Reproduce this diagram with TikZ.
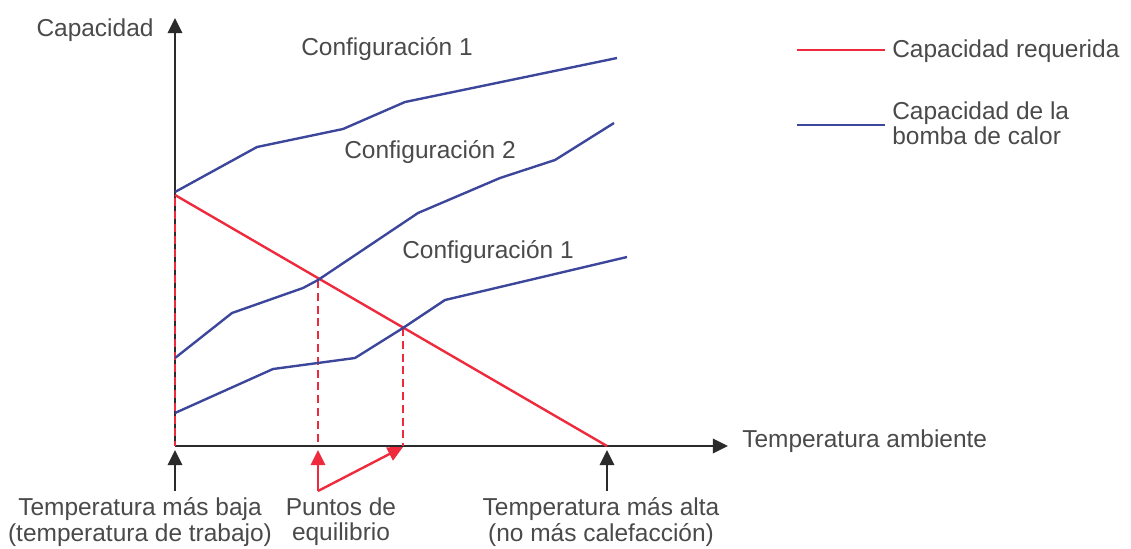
\documentclass[tikz,border=0pt]{standalone}
\usepackage{fontspec}
\setmainfont{Liberation Sans}
\usetikzlibrary{arrows.meta,calc}
\definecolor{reqred}{HTML}{EE2A3C}
\definecolor{hpblue}{HTML}{3C479B}
\definecolor{axisgray}{HTML}{2B2B2B}
\definecolor{txtgray}{HTML}{4A4A4A}

\begin{document}
\begin{tikzpicture}[x=0.025cm,y=-0.025cm,
  lbl/.style={text=txtgray,font=\fontsize{17.4}{18}\selectfont,inner sep=0pt},
  ax/.style={draw=axisgray,line width=1.7pt,-{Triangle[length=0.38cm,width=0.36cm]}},
  req/.style={draw=reqred,line width=1.7pt},
  hp/.style={draw=hpblue,line width=1.7pt,line join=round},
  drop/.style={draw=reqred,line width=2.1pt,dash pattern=on 0.2cm off 0.12cm},
  pointer/.style={line width=1.7pt,-{Triangle[length=0.38cm,width=0.36cm]}}]
\useasboundingbox (0,0) rectangle (1131,548);
% axes
\coordinate (O) at (175,446);
\coordinate (Ytip) at (175,18);
\coordinate (Xtip) at (728,446);
\draw[ax] (O) -- (Ytip);
\draw[ax] (O) -- (Xtip);
% required capacity and balance points
\coordinate (R0) at (175,195);
\coordinate (R1) at (607,446);
\coordinate (P1) at (318,280);
\coordinate (P2) at (403,328);
\coordinate (B0) at (175,446);
\coordinate (B1) at (318,446);
\coordinate (B2) at (403,446);
\draw[drop] (175,198) -- (B0);
\draw[drop] (P1) -- (B1);
\draw[drop] (P2) -- (B2);
\draw[req] (R0) -- (R1);
% heat pump capacity
\draw[hp] (175,192) -- (257,147) -- (343,129) -- (405,102) -- (617,58);
\draw[hp] (175,358) -- (232,313) -- (303,288) -- (P1) -- (418,213) -- (500,178) -- (555,160) -- (614,123);
\draw[hp] (175,413) -- (273,369) -- (355,358) -- (P2) -- (445,300) -- (627,257);
% labels
\node[lbl] (ylab) at (95,30) {Capacidad};
\node[lbl,anchor=west] (xlab) at (742,441) {Temperatura ambiente};
\node[lbl] (c1a) at (387,49) {Configuración 1};
\node[lbl] (c2) at (430,152) {Configuración 2};
\node[lbl] (c1b) at (488,252) {Configuración 1};
% legend
\coordinate (L1a) at (797,50);
\coordinate (L1b) at (885,50);
\coordinate (L2a) at (797,125);
\coordinate (L2b) at (885,125);
\draw[req] (L1a) -- (L1b);
\draw[hp] (L2a) -- (L2b);
\node[lbl,anchor=west] (leg1) at (892,51) {Capacidad requerida};
\node[lbl,anchor=west,align=left] (leg2) at (892,123) {Capacidad de la\\bomba de calor};
% pointers below the axis
\coordinate (T0) at (175,491);
\coordinate (T0tip) at (175,450);
\coordinate (T1) at (607,491);
\coordinate (T1tip) at (607,450);
\coordinate (E0) at (318,491);
\coordinate (E1tip) at (318,450);
\coordinate (E2tip) at (403,447);
\draw[pointer,draw=axisgray,fill=axisgray] (T0) -- (T0tip);
\draw[pointer,draw=axisgray,fill=axisgray] (T1) -- (T1tip);
\draw[pointer,draw=reqred,fill=reqred] (E0) -- (E1tip);
\draw[pointer,draw=reqred,fill=reqred] (E0) -- (E2tip);
\node[lbl,align=center] (low) at (140,522) {Temperatura más baja\\(temperatura de trabajo)};
\node[lbl,align=center] (eq) at (341,522) {Puntos de\\equilibrio};
\node[lbl,align=center] (high) at (601,522) {Temperatura más alta\\(no más calefacción)};
\end{tikzpicture}
\end{document}
